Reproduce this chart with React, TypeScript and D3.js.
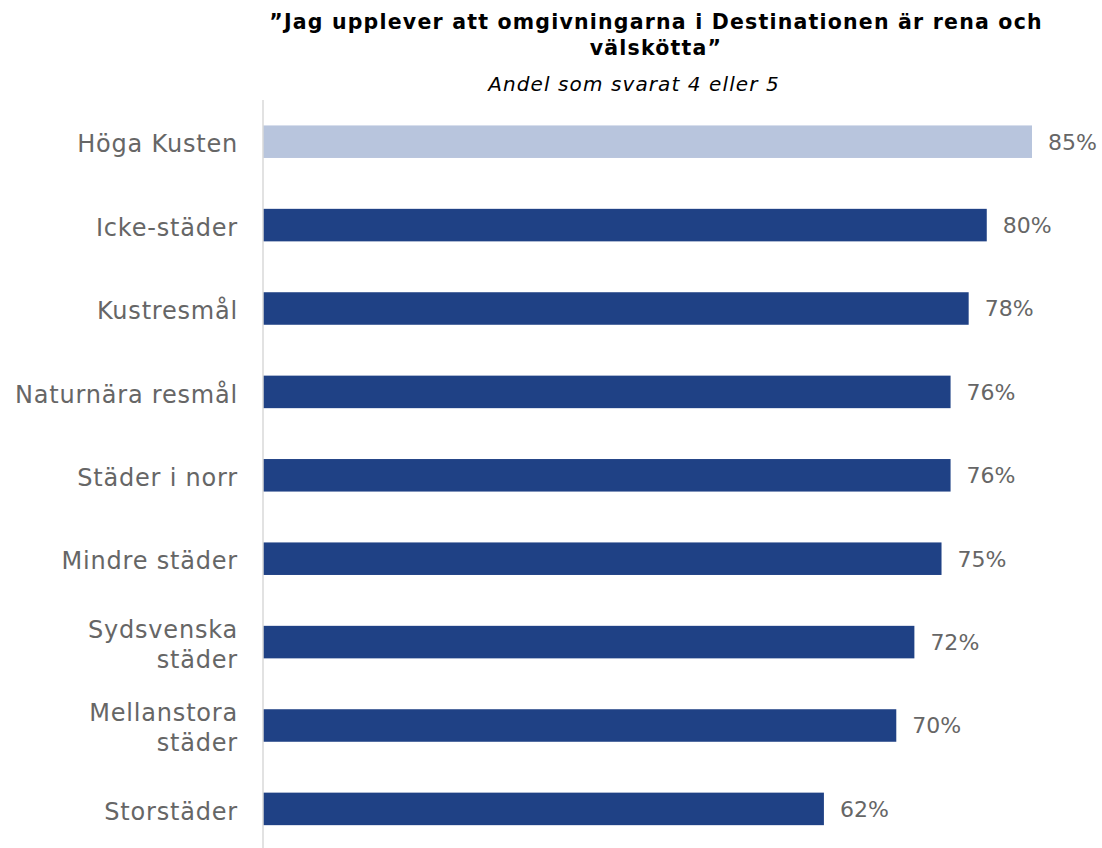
import React from "react";
import * as d3 from "d3";

const categories = [
  "Höga Kusten",
  "Icke-städer",
  "Kustresmål",
  "Naturnära resmål",
  "Städer i norr",
  "Mindre städer",
  "Sydsvenska\nstäder",
  "Mellanstora\nstäder",
  "Storstäder",
];
const values = [85, 80, 78, 76, 76, 75, 72, 70, 62];
const highlighted = ["Höga Kusten"];
const titleLines = ["”Jag upplever att omgivningarna i Destinationen är rena och", "välskötta”"];
const subtitle = "Andel som svarat 4 eller 5";

const W = 1102;
const H = 848;
const FONT = "'DejaVu Sans', sans-serif";

export default function App() {
  const x = d3.scaleLinear().domain([0, 100]).range([263, 263 + 904.7]);
  const y = d3
    .scaleBand<string>()
    .domain(categories)
    .range([100, 100 + 9 * 83.4])
    .paddingInner(0.61)
    .paddingOuter(0.305);
  const bw = y.bandwidth();
  return (
    <svg
      width={W}
      height={H}
      style={{ position: "absolute", left: 0, top: 0, background: "#fff" }}
      fontFamily={FONT}
    >
      {titleLines.map((t, i) => (
        <text
          key={i}
          x={656}
          y={29 + i * 26}
          textAnchor="middle"
          fontSize={20.5}
          fontWeight={700}
          letterSpacing={1.2}
          fill="#000"
        >
          {t}
        </text>
      ))}
      <text
        x={634}
        y={91}
        textAnchor="middle"
        fontSize={20}
        fontStyle="italic"
        letterSpacing={1.1}
        fill="#000"
      >
        {subtitle}
      </text>
      {categories.map((c, i) => {
        const yc = (y(c) as number) + bw / 2;
        const lines = c.split("\n");
        const lh = 30;
        return (
          <g key={c}>
            <rect
              x={x(0)}
              y={y(c)}
              width={x(values[i]) - x(0)}
              height={bw}
              fill={highlighted.includes(c) ? "#B8C5DD" : "#1F4185"}
            />
            <text
              x={x(values[i]) + 16}
              y={yc}
              dy="0.36em"
              fontSize={22}
              fill="#666"
            >
              {values[i]}%
            </text>
            {lines.map((l, j) => (
              <text
                key={j}
                x={238}
                y={yc + (j - (lines.length - 1) / 2) * lh + 2}
                dy="0.36em"
                textAnchor="end"
                fontSize={24}
                letterSpacing={0.8}
                fill="#666"
              >
                {l}
              </text>
            ))}
          </g>
        );
      })}
      <line x1={x(0)} x2={x(0)} y1={100} y2={H} stroke="#D9D9D9" strokeWidth={1.5} />
    </svg>
  );
}
